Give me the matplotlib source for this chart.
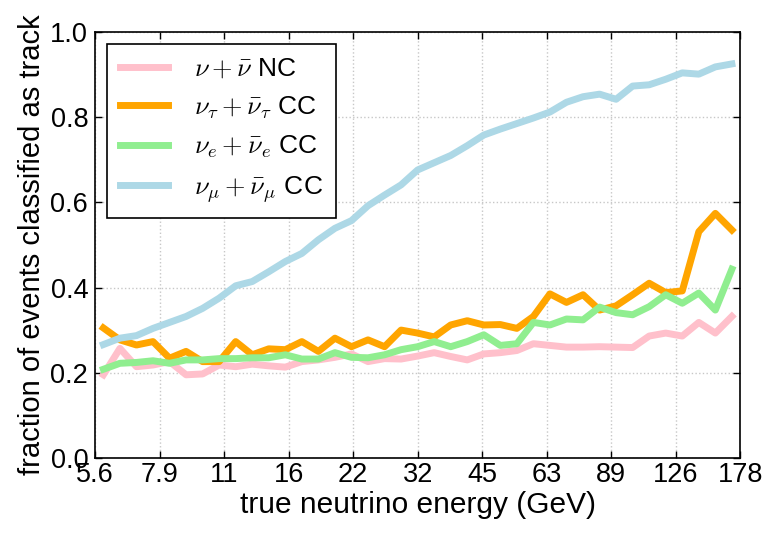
import numpy as np
import matplotlib
matplotlib.use('Agg')
import matplotlib.pyplot as plt

# 能量分箱：log10(E/GeV) 从 0.75 到 2.25，共 39 个箱
log_e_edges = np.linspace(0.75, 2.25, 40)
energy = 10 ** (0.5 * (log_e_edges[:-1] + log_e_edges[1:]))

# 各通道被判为 track 的比例
nc_all = [0.195, 0.257, 0.214, 0.218, 0.226, 0.195, 0.197, 0.218, 0.214, 0.220,
          0.216, 0.213, 0.226, 0.230, 0.236, 0.244, 0.226, 0.233, 0.232, 0.239,
          0.247, 0.238, 0.230, 0.244, 0.247, 0.252, 0.268, 0.264, 0.260, 0.260,
          0.261, 0.260, 0.259, 0.286, 0.293, 0.286, 0.318, 0.293, 0.332]
cc_tau = [0.305, 0.277, 0.265, 0.273, 0.234, 0.250, 0.226, 0.226, 0.273, 0.242,
          0.256, 0.254, 0.273, 0.250, 0.281, 0.261, 0.277, 0.261, 0.300, 0.293,
          0.284, 0.312, 0.322, 0.312, 0.313, 0.304, 0.332, 0.385, 0.365, 0.383,
          0.347, 0.357, 0.383, 0.410, 0.388, 0.392, 0.531, 0.574, 0.535]
cc_e = [0.208, 0.222, 0.224, 0.228, 0.222, 0.230, 0.230, 0.233, 0.233, 0.235,
        0.235, 0.242, 0.232, 0.232, 0.247, 0.236, 0.235, 0.242, 0.254, 0.261,
        0.273, 0.261, 0.273, 0.289, 0.264, 0.268, 0.318, 0.312, 0.326, 0.324,
        0.354, 0.341, 0.336, 0.355, 0.383, 0.363, 0.387, 0.347, 0.443]
cc_mu = [0.266, 0.281, 0.287, 0.304, 0.318, 0.332, 0.351, 0.375, 0.404, 0.414,
         0.437, 0.461, 0.480, 0.512, 0.539, 0.557, 0.592, 0.617, 0.641, 0.676,
         0.693, 0.710, 0.733, 0.758, 0.772, 0.785, 0.798, 0.812, 0.835, 0.848,
         0.854, 0.842, 0.873, 0.876, 0.889, 0.904, 0.901, 0.918, 0.925]

labels = [r'$\nu + \bar{\nu}$ NC', r'$\nu_\tau + \bar{\nu}_\tau$ CC',
          r'$\nu_e + \bar{\nu}_e$ CC', r'$\nu_\mu + \bar{\nu}_\mu$ CC']
colors = ['pink', 'orange', 'lightgreen', 'lightblue']

xtick_labels = ['5.6', '7.9', '11', '16', '22', '32', '45', '63', '89', '126', '178']

plt.rcParams['font.family'] = ['Liberation Sans', 'DejaVu Sans']
plt.rcParams['mathtext.fontset'] = 'cm'
plt.rcParams['xtick.direction'] = 'in'
plt.rcParams['ytick.direction'] = 'in'
plt.rcParams['xtick.top'] = True
plt.rcParams['ytick.right'] = True

fig = plt.figure(figsize=(7.67, 5.33), dpi=100)
ax = fig.add_axes([0.124, 0.141, 0.841, 0.799])

for series, c, lab in zip([nc_all, cc_tau, cc_e, cc_mu], colors, labels):
    ax.plot(energy, series, color=c, lw=5, label=lab)

ax.set_xscale('log')
ax.set_xlim(10 ** 0.75, 10 ** 2.25)
xt = 10 ** np.linspace(0.75, 2.25, len(xtick_labels))
ax.set_xticks(xt)
ax.set_xticklabels(xtick_labels)
ax.xaxis.set_minor_locator(matplotlib.ticker.NullLocator())
ax.set_ylim(0, 1)
ax.set_yticks([0.0, 0.2, 0.4, 0.6, 0.8, 1.0])
ax.set_yticklabels(['0.0', '0.2', '0.4', '0.6', '0.8', '1.0'])

ax.tick_params(labelsize=19.5, length=5, width=1)
ax.tick_params(axis='x', pad=3)
ax.tick_params(axis='y', pad=5)
ax.grid(True, color='0.78', linestyle=':', linewidth=1)
for sp in ax.spines.values():
    sp.set_linewidth(1.2)

ax.set_xlabel('true neutrino energy (GeV)', fontsize=21.5, labelpad=2)
ax.set_ylabel('fraction of events classified as track', fontsize=21, labelpad=3)

leg = ax.legend(loc='upper left', fontsize=19, fancybox=False, framealpha=1,
                handlelength=1.8, handletextpad=1.0, borderpad=0.5,
                labelspacing=0.5, borderaxespad=0.45)
leg.get_frame().set_edgecolor('black')
leg.get_frame().set_linewidth(1.2)

fig.savefig('out.png', dpi=100)
